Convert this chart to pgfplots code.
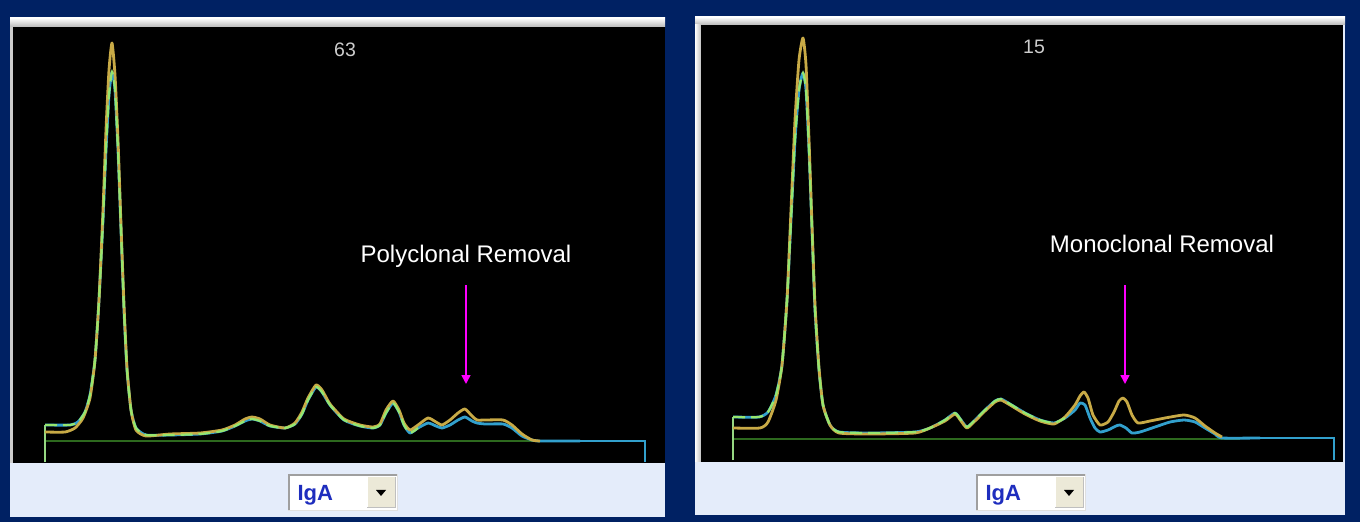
\documentclass[border=0pt]{standalone}
\usepackage{pgfplots}
\pgfplotsset{compat=1.18}
\usepackage{fontspec}
\setmainfont{Liberation Sans}
\usetikzlibrary{arrows.meta}
\definecolor{navy}{RGB}{0,33,99}
\definecolor{strip}{RGB}{228,236,250}
\definecolor{tcyan}{RGB}{50,160,205}
\definecolor{tyel}{RGB}{200,170,70}
\definecolor{tgreen}{RGB}{150,230,110}
\definecolor{dgreen}{RGB}{45,105,30}
\definecolor{lgreen}{RGB}{150,215,130}
\definecolor{numgray}{RGB}{205,205,205}
\definecolor{iga}{RGB}{30,45,190}
\definecolor{btn}{RGB}{236,233,216}
\definecolor{mag}{RGB}{255,0,255}

\pgfplotstableread{
x y
45 425
70 425
78 422
85 412
90 395
95 360
99 300
103 220
106 150
109 95
112 72
115 90
118 150
121 230
124 310
127 370
131 410
136 428
146 435
170 435
200 434
222 431
235 426
245 421
252 419
260 421
270 426
285 428
295 424
302 414
308 400
316 387
322 392
330 405
344 420
360 426
373 428
380 425
386 413
393 403
399 412
404 425
410 433
418 428
428 423
436 426
442 428
450 425
458 420
465 417
472 421
477 423
485 424
503 424
512 428
522 436
532 440
540 441
580 441
}\LeftCyan

\pgfplotstableread{
x y
45 432
65 432
75 428
83 418
90 398
95 360
99 300
103 210
106 130
109 70
112 43
115 75
118 140
121 225
124 305
127 368
131 410
136 430
146 436
170 434
200 433
222 430
235 425
245 419
252 417
260 419
270 425
285 428
295 423
302 412
308 398
316 385
322 390
330 404
344 419
360 425
373 427
380 424
386 410
393 401
399 410
404 423
410 430
418 425
428 418
436 422
442 425
450 420
458 413
465 409
472 416
477 420
485 420
503 420
512 425
522 434
532 440
540 441
}\LeftYel

\pgfplotstableread{
x y
733 417
759 417
768 412
776 395
782 365
787 300
791 220
795 140
799 90
803 73
806 90
809 150
812 230
815 310
819 370
823 405
830 425
839 432
870 433
915 432
930 428
945 420
955 413
961 420
967 427
975 420
985 410
995 401
1001 399
1010 404
1025 413
1040 420
1054 423
1065 418
1075 410
1080 403
1085 405
1090 418
1095 428
1100 432
1108 430
1116 426
1120 425
1126 428
1132 433
1140 432
1155 427
1170 422
1184 420
1195 422
1205 428
1215 434
1222 438
1260 438
}\RightCyan

\pgfplotstableread{
x y
733 428
760 428
768 422
776 400
782 365
787 300
791 210
795 120
799 60
803 38
806 65
809 140
812 225
815 305
819 368
823 405
830 425
839 433
870 434
915 433
930 428
945 421
955 414
961 421
967 428
975 421
985 411
995 402
1001 400
1010 405
1025 414
1040 421
1054 424
1065 417
1075 405
1080 396
1084 392
1088 398
1093 415
1100 425
1108 422
1114 412
1119 401
1123 398
1127 402
1132 415
1138 423
1150 421
1165 418
1184 415
1195 418
1205 426
1215 433
1222 437
}\RightYel

\begin{document}
\begin{tikzpicture}[x=1pt,y=1pt]
% background
\fill[navy] (0,0) rectangle (1360,522);
% left panel
\fill[strip] (10,5) rectangle (665,504);
\shade[top color=white,bottom color=gray!55] (10,495) rectangle (665,504);
\fill[gray!40] (10,59) rectangle (13,495);
\fill[black] (13,59) rectangle (665,495);
% right panel
\fill[strip] (695,7) rectangle (1345,505);
\shade[top color=white,bottom color=gray!55] (695,497) rectangle (1345,505);
\shade[left color=white,right color=gray!50] (695,60) rectangle (701,497);
\fill[black] (701,60) rectangle (1343,497);

\pgfplotsset{panel/.style={
  scale only axis, axis lines=none, ticks=none, y dir=reverse,
  anchor=south west, clip=true},
  trace/.style={line width=2.8pt, smooth, tension=0.35, line join=round}}

% ---------- left chart ----------
\begin{axis}[panel, at={(13pt,59pt)}, width=652pt, height=436pt,
  xmin=13, xmax=665, ymin=27, ymax=463]
\addplot[dgreen, line width=2pt] coordinates {(45,441) (560,441)};
\addplot[lgreen, line width=2.4pt] coordinates {(45,462) (45,425)};
\addplot[tcyan, line width=2.6pt] coordinates {(560,441) (645,441) (645,462)};
\addplot[tcyan, trace] table[x=x,y=y] {\LeftCyan};
\addplot[tyel, trace] table[x=x,y=y] {\LeftYel};
\addplot[tgreen, line width=2.2pt, smooth, tension=0.35, dash pattern=on 12pt off 6pt, restrict x to domain=45:420] table[x=x,y=y] {\LeftCyan};
\draw[mag, line width=1.6pt, -{Triangle[width=9pt,length=9pt]}] (axis cs:466,285) -- (axis cs:466,384);
\node[white, anchor=base, font=\fontsize{24}{28}\selectfont] at (axis cs:466,262) {Polyclonal Removal};
\node[numgray, anchor=base, font=\fontsize{19.5}{23}\selectfont] at (axis cs:345,57) {63};
\end{axis}

% ---------- right chart ----------
\begin{axis}[panel, at={(701pt,60pt)}, width=642pt, height=437pt,
  xmin=701, xmax=1343, ymin=25, ymax=462]
\addplot[dgreen, line width=2pt] coordinates {(733,439) (1240,439)};
\addplot[lgreen, line width=2.4pt] coordinates {(733,460) (733,417)};
\addplot[tcyan, line width=2.6pt] coordinates {(1240,438) (1334,438) (1334,460)};
\addplot[tcyan, trace] table[x=x,y=y] {\RightCyan};
\addplot[tyel, trace] table[x=x,y=y] {\RightYel};
\addplot[tgreen, line width=2.2pt, smooth, tension=0.35, dash pattern=on 12pt off 6pt, restrict x to domain=733:1070] table[x=x,y=y] {\RightCyan};
\draw[mag, line width=1.6pt, -{Triangle[width=9pt,length=9pt]}] (axis cs:1125,285) -- (axis cs:1125,384);
\node[white, anchor=base, font=\fontsize{24}{28}\selectfont] at (axis cs:1162,252) {Monoclonal Removal};
\node[numgray, anchor=base, font=\fontsize{19.5}{23}\selectfont] at (axis cs:1034,54) {15};
\end{axis}

% ---------- dropdowns ----------
\foreach \xa/\xb in {288/398, 976/1086}{
  \fill[white] (\xa,11) rectangle (\xb,48);
  \draw[gray!75, line width=2pt] (\xa+1,11) -- (\xa+1,47) -- (\xb,47);
  \draw[gray!25, line width=1pt] (\xa,11.5) -- (\xb-0.5,11.5) -- (\xb-0.5,48);
  \fill[btn] (\xb-31,14) rectangle (\xb-3,45);
  \draw[white, line width=1pt] (\xb-31,14) -- (\xb-31,45) -- (\xb-3,45);
  \draw[gray!50, line width=1pt] (\xb-31,14) -- (\xb-3,14) -- (\xb-3,45);
  \fill[black] (\xb-22,32) -- (\xb-12,32) -- (\xb-17,26) -- cycle;
}
\node[iga, font=\bfseries\fontsize{22}{26}\selectfont, anchor=base west] at (294,21) {IgA};
\node[iga, font=\bfseries\fontsize{22}{26}\selectfont, anchor=base west] at (982,21) {IgA};
\end{tikzpicture}
\end{document}
